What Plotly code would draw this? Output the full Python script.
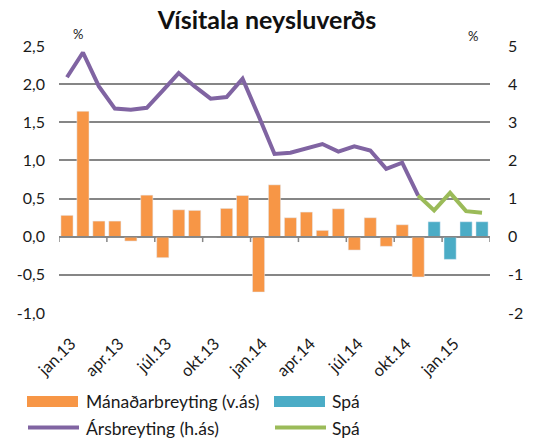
import plotly.graph_objects as go

months = ["jan.13","feb.13","mar.13","apr.13","maí.13","jún.13","júl.13","ágú.13","sep.13","okt.13","nóv.13","des.13",
          "jan.14","feb.14","mar.14","apr.14","maí.14","jún.14","júl.14","ágú.14","sep.14","okt.14","nóv.14","des.14",
          "jan.15","feb.15","mar.15"]
monthly = [0.28,1.645,0.205,0.205,-0.057,0.545,-0.275,0.353,0.345,0.0,0.371,0.54,
           -0.725,0.68,0.249,0.323,0.083,0.366,-0.175,0.249,-0.126,0.157,-0.528]
monthly_fc = [0.196,-0.297,0.196,0.196]
annual = [4.18,4.83,3.94,3.36,3.33,3.38,3.83,4.29,3.94,3.62,3.66,4.14,
          3.17,2.17,2.2,2.31,2.43,2.23,2.37,2.26,1.78,1.94,1.08]
annual_fc = [1.08,0.69,1.15,0.67,0.63]

left_ticks = [-1.0,-0.5,0.0,0.5,1.0,1.5,2.0,2.5]
right_ticks = [-2,-1,0,1,2,3,4,5]

ORANGE = "#F79646"; BLUE = "#4BACC6"; PURPLE = "#8064A2"; GREEN = "#9BBB59"
FONT = "Lato"
TXT = "#1a1a1a"

W, H = 534, 439
L, R, T, B = 59, 44, 46, 126
PW, PH = W - L - R, H - T - B

n = len(months)
idx = list(range(n))
x_m = idx[:len(monthly)]
x_mfc = idx[len(monthly):]
x_a = idx[:len(annual)]
x_afc = idx[len(annual)-1:]

fig = go.Figure()
fig.add_trace(go.Bar(x=x_m, y=monthly, marker_color=ORANGE, width=0.76, name="Mánaðarbreyting (v.ás)"))
fig.add_trace(go.Bar(x=x_mfc, y=monthly_fc, marker_color=BLUE, width=0.76, name="Spá"))
fig.add_trace(go.Scatter(x=x_a, y=annual, yaxis="y2", mode="lines", line=dict(color=PURPLE, width=4), name="Ársbreyting (h.ás)"))
fig.add_trace(go.Scatter(x=x_afc, y=annual_fc, yaxis="y2", mode="lines", line=dict(color=GREEN, width=4), name="Spá"))

def fmt(v):
    return f"{v:.1f}".replace(".", ",")

def px(xp): return (xp - L) / PW
def py(yp): return (H - B - yp) / PH

shapes = []
shapes.append(dict(type="line", xref="x", yref="y", x0=-0.5, x1=n-0.5, y0=0, y1=0,
                   line=dict(color="#868686", width=1.5), layer="above"))
for k in list(range(0, n, 3)) + [n]:
    shapes.append(dict(type="line", xref="x", yref="y", x0=k-0.5, x1=k-0.5, y0=0, y1=-0.07,
                       line=dict(color="#868686", width=1.5)))

shapes.append(dict(type="rect", xref="paper", yref="paper", x0=px(27), x1=px(78), y0=py(407), y1=py(396),
                   fillcolor=ORANGE, line=dict(width=0)))
shapes.append(dict(type="rect", xref="paper", yref="paper", x0=px(274), x1=px(325), y0=py(407), y1=py(396),
                   fillcolor=BLUE, line=dict(width=0)))
shapes.append(dict(type="line", xref="paper", yref="paper", x0=px(28), x1=px(79), y0=py(427.5), y1=py(427.5),
                   line=dict(color=PURPLE, width=4)))
shapes.append(dict(type="line", xref="paper", yref="paper", x0=px(275), x1=px(326), y0=py(427.5), y1=py(427.5),
                   line=dict(color=GREEN, width=4)))

ann = []
legend_items = [("Mánaðarbreyting (v.ás)", 84, 401), ("Spá", 330, 401), ("Ársbreyting (h.ás)", 84, 428), ("Spá", 330, 428)]
for t, xx, yy in legend_items:
    ann.append(dict(text=t, xref="paper", yref="paper", x=px(xx), y=py(yy), xanchor="left", yanchor="middle",
                    showarrow=False, font=dict(family=FONT, size=17.5, color=TXT)))
ann.append(dict(text="%", xref="paper", yref="paper", x=px(78), y=py(34), xanchor="center", yanchor="middle",
                showarrow=False, font=dict(family=FONT, size=13, color=TXT)))
ann.append(dict(text="%", xref="paper", yref="paper", x=px(473), y=py(36), xanchor="center", yanchor="middle",
                showarrow=False, font=dict(family=FONT, size=13, color=TXT)))

tick_pos = [i + 0.25 for i in idx[::3]]

fig.update_layout(
    width=W, height=H,
    margin=dict(l=L, r=R, t=T, b=B),
    paper_bgcolor="white", plot_bgcolor="white",
    showlegend=False, barmode="overlay",
    title=dict(text="<b>Vísitala neysluverðs</b>", x=0.5, xanchor="center", y=1-20/H, yanchor="middle",
               font=dict(family=FONT, size=25, color="#111111")),
    xaxis=dict(range=[-0.5, n-0.5], tickmode="array", tickvals=tick_pos, ticktext=months[::3],
               tickangle=-45, showgrid=False, zeroline=False, showline=False, ticks="",
               ticklabelstandoff=17, tickfont=dict(family=FONT, size=16.5, color=TXT)),
    yaxis=dict(range=[-1.0, 2.5], tickmode="array", tickvals=left_ticks, ticktext=[fmt(v) for v in left_ticks],
               showgrid=True, gridcolor="#868686", gridwidth=1.5, zeroline=False, showline=False,
               ticks="", ticklabelstandoff=13, tickfont=dict(family=FONT, size=16, color=TXT)),
    yaxis2=dict(range=[-2, 5], overlaying="y", side="right", tickmode="array", tickvals=right_ticks,
                ticktext=[str(v) for v in right_ticks], showgrid=False, zeroline=False, showline=False,
                ticks="", ticklabelstandoff=17, tickfont=dict(family=FONT, size=16, color=TXT)),
    shapes=shapes, annotations=ann,
)
fig.write_html("out.html", config={"displayModeBar": False},
               post_script="document.body.style.margin='0';document.body.style.padding='0';")
